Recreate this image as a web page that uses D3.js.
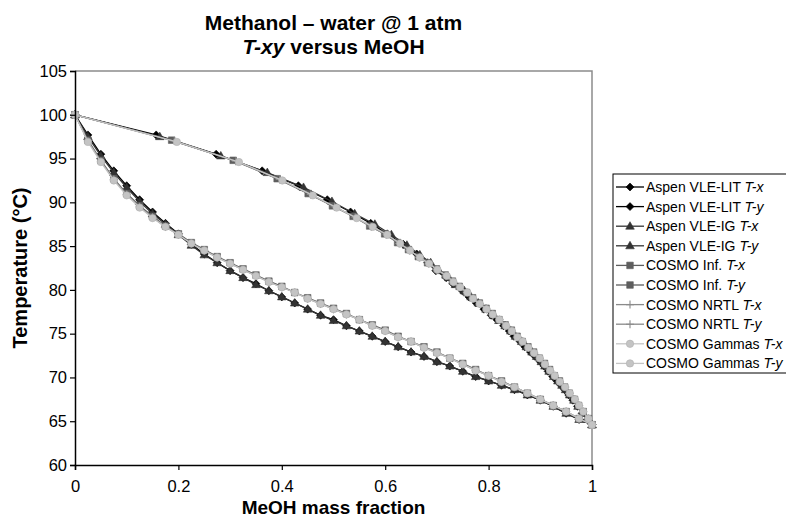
<!DOCTYPE html>
<html>
<head>
<meta charset="utf-8">
<script src="https://cdn.jsdelivr.net/npm/d3@7/dist/d3.min.js"></script>
<style>
  html, body { margin: 0; padding: 0; background: #fff; }
  svg { display: block; font-family: "Liberation Sans", Arial, sans-serif; }
</style>
</head>
<body>
<svg id="chart" width="786" height="519"></svg>
<script>
// Liquid MeOH mass fraction grid shared by every model
const liquidX = [0, 0.025, 0.05, 0.075, 0.1, 0.125, 0.15, 0.175, 0.2, 0.225,
  0.25, 0.275, 0.3, 0.325, 0.35, 0.375, 0.4, 0.425, 0.45, 0.475,
  0.5, 0.525, 0.55, 0.575, 0.6, 0.625, 0.65, 0.675, 0.7, 0.725,
  0.75, 0.775, 0.8, 0.825, 0.85, 0.875, 0.9, 0.925, 0.95, 0.975, 1];

// Aspen VLE-LIT: bubble temperature (°C) and vapour mass fraction
const litT = [100, 97.7, 95.5, 93.6, 91.9, 90.3, 88.9, 87.6, 86.4, 85.2,
  84.1, 83.1, 82.2, 81.4, 80.7, 79.9, 79.2, 78.5, 77.8, 77.1,
  76.6, 75.9, 75.3, 74.7, 74.1, 73.5, 72.9, 72.4, 71.8, 71.3,
  70.7, 70.1, 69.6, 69.1, 68.6, 68.0, 67.4, 66.7, 65.9, 65.2, 64.6];
const litY = [0, 0.157, 0.273, 0.362, 0.432, 0.488, 0.533, 0.572, 0.604, 0.635,
  0.661, 0.682, 0.698, 0.718, 0.731, 0.749, 0.762, 0.776, 0.791, 0.805,
  0.816, 0.829, 0.840, 0.849, 0.861, 0.870, 0.881, 0.890, 0.900, 0.907,
  0.915, 0.924, 0.932, 0.940, 0.947, 0.955, 0.963, 0.972, 0.981, 0.991, 1];

// Aspen VLE-IG
const igT = [100, 97.5, 95.3, 93.4, 91.7, 90.1, 88.7, 87.5, 86.3, 85.1,
  84.0, 83.1, 82.2, 81.4, 80.6, 79.9, 79.2, 78.5, 77.8, 77.1,
  76.5, 75.9, 75.3, 74.7, 74.1, 73.5, 72.9, 72.4, 71.8, 71.3,
  70.7, 70.1, 69.6, 69.1, 68.6, 68.0, 67.4, 66.7, 65.9, 65.2, 64.6];
const igY = [0, 0.164, 0.282, 0.372, 0.442, 0.497, 0.541, 0.580, 0.612, 0.642,
  0.667, 0.688, 0.704, 0.723, 0.736, 0.753, 0.766, 0.780, 0.795, 0.809,
  0.820, 0.832, 0.843, 0.852, 0.864, 0.873, 0.884, 0.893, 0.902, 0.909,
  0.917, 0.926, 0.934, 0.942, 0.949, 0.957, 0.965, 0.973, 0.982, 0.991, 1];

// COSMO Inf.
const infT = [100, 97.1, 94.8, 92.7, 91.0, 89.6, 88.4, 87.3, 86.4, 85.4,
  84.6, 83.8, 83.1, 82.4, 81.7, 81.0, 80.4, 79.7, 79.1, 78.5,
  77.9, 77.3, 76.6, 76.0, 75.4, 74.7, 74.1, 73.5, 72.9, 72.2,
  71.6, 70.9, 70.2, 69.6, 68.9, 68.2, 67.5, 66.8, 66.1, 65.3, 64.6];
const infY = [0, 0.187, 0.306, 0.391, 0.451, 0.498, 0.538, 0.570, 0.599, 0.624,
  0.645, 0.664, 0.682, 0.699, 0.716, 0.730, 0.743, 0.757, 0.769, 0.782,
  0.795, 0.807, 0.820, 0.832, 0.844, 0.855, 0.865, 0.876, 0.887, 0.898,
  0.908, 0.918, 0.927, 0.937, 0.947, 0.956, 0.966, 0.974, 0.983, 0.993, 1];

// COSMO NRTL
const nrtlT = [100, 97.0, 94.7, 92.6, 90.9, 89.5, 88.3, 87.2, 86.3, 85.3,
  84.5, 83.7, 83.0, 82.3, 81.6, 80.9, 80.3, 79.7, 79.0, 78.4,
  77.8, 77.2, 76.6, 75.9, 75.3, 74.6, 74.1, 73.4, 72.8, 72.2,
  71.5, 70.8, 70.2, 69.5, 68.9, 68.2, 67.5, 66.8, 66.1, 65.3, 64.6];
const nrtlY = [0, 0.192, 0.311, 0.396, 0.456, 0.502, 0.542, 0.573, 0.602, 0.627,
  0.647, 0.666, 0.684, 0.700, 0.718, 0.731, 0.744, 0.758, 0.770, 0.783,
  0.796, 0.808, 0.821, 0.833, 0.845, 0.856, 0.866, 0.877, 0.888, 0.899,
  0.909, 0.919, 0.928, 0.938, 0.948, 0.957, 0.967, 0.975, 0.983, 0.993, 1];

// COSMO Gammas
const gamT = [100, 96.9, 94.6, 92.5, 90.8, 89.4, 88.2, 87.2, 86.3, 85.3,
  84.5, 83.7, 83.0, 82.3, 81.6, 80.9, 80.3, 79.7, 79.0, 78.4,
  77.8, 77.2, 76.6, 75.9, 75.3, 74.6, 74.1, 73.4, 72.8, 72.2,
  71.5, 70.8, 70.2, 69.5, 68.9, 68.2, 67.5, 66.8, 66.1, 65.3, 64.6];
const gamY = [0, 0.197, 0.317, 0.401, 0.460, 0.506, 0.545, 0.576, 0.604, 0.629,
  0.648, 0.667, 0.685, 0.701, 0.719, 0.732, 0.745, 0.759, 0.770, 0.783,
  0.796, 0.808, 0.821, 0.834, 0.845, 0.856, 0.866, 0.877, 0.888, 0.899,
  0.909, 0.919, 0.928, 0.938, 0.948, 0.957, 0.967, 0.975, 0.983, 0.993, 1];

const xTicks = [0, 0.2, 0.4, 0.6, 0.8, 1];
const yTicks = [60, 65, 70, 75, 80, 85, 90, 95, 100, 105];

// Models in drawing order: name, colour, marker, temperatures, vapour fractions
const models = [
  { name: "Aspen VLE-LIT", color: "#000000", marker: "diamond", T: litT, Y: litY },
  { name: "Aspen VLE-IG", color: "#333333", marker: "triangle", T: igT, Y: igY },
  { name: "COSMO Inf.", color: "#5e5e5e", marker: "square", T: infT, Y: infY },
  { name: "COSMO NRTL", color: "#8a8a8a", marker: "plus", T: nrtlT, Y: nrtlY },
  { name: "COSMO Gammas", color: "#c4c4c4", marker: "circle", T: gamT, Y: gamY }
];

// Each model gives a T-x (bubble) and a T-y (dew) series
const series = [];
models.forEach(m => {
  series.push({ label: m.name, kind: "T-x", color: m.color, marker: m.marker,
    pts: liquidX.map((v, i) => [v, m.T[i]]) });
  series.push({ label: m.name, kind: "T-y", color: m.color, marker: m.marker,
    pts: m.Y.map((v, i) => [v, m.T[i]]) });
});

const svg = d3.select("#chart");
const plot = { left: 75, right: 592, top: 71, bottom: 465 };

const x = d3.scaleLinear().domain([0, 1]).range([plot.left, plot.right]);
const y = d3.scaleLinear().domain([60, 105]).range([plot.bottom, plot.top]);

// Plot frame: grey top/right edges
svg.append("path")
  .attr("d", `M${plot.left},${plot.top}H${plot.right}V${plot.bottom}`)
  .attr("fill", "none").attr("stroke", "#8c8c8c").attr("stroke-width", 1.5);

const markerPath = (type) => {
  switch (type) {
    case "diamond": return "M0,-4L4,0L0,4L-4,0Z";
    case "triangle": return "M0,-4.5L4.3,3L-4.3,3Z";
    case "square": return "M-3.3,-3.3H3.3V3.3H-3.3Z";
    case "plus": return "M-4,0H4M0,-4V4";
    default: return null;
  }
};

function drawMarker(g, type, color) {
  if (type === "circle") {
    g.append("circle").attr("r", 3.7).attr("fill", color).attr("stroke", "#b0b0b0").attr("stroke-width", 0.6);
  } else if (type === "plus") {
    g.append("path").attr("d", markerPath(type)).attr("fill", "none")
      .attr("stroke", color).attr("stroke-width", 1.1);
  } else {
    g.append("path").attr("d", markerPath(type)).attr("fill", color)
      .attr("stroke", color).attr("stroke-width", 0.6);
  }
}

const line = d3.line().x(d => x(d[0])).y(d => y(d[1]));

const marks = svg.append("g");
series.forEach(s => {
  const g = marks.append("g");
  g.append("path").datum(s.pts).attr("d", line)
    .attr("fill", "none").attr("stroke", s.color).attr("stroke-width", 1.3);
  g.selectAll("g.pt").data(s.pts).enter().append("g")
    .attr("class", "pt")
    .attr("transform", d => `translate(${x(d[0])},${y(d[1])})`)
    .each(function () { drawMarker(d3.select(this), s.marker, s.color); });
});

// Axes
const xAxis = svg.append("g").attr("transform", `translate(0,${plot.bottom})`)
  .call(d3.axisBottom(x).tickValues(xTicks).tickSize(5).tickPadding(10)
    .tickFormat(d => d === 0 || d === 1 ? String(d) : d3.format(".1f")(d)));
const yAxis = svg.append("g").attr("transform", `translate(${plot.left},0)`)
  .call(d3.axisLeft(y).tickValues(yTicks).tickSize(5).tickPadding(3));

[xAxis, yAxis].forEach(a => {
  a.select(".domain").attr("stroke", "#000").attr("stroke-width", 1.5);
  a.selectAll(".tick line").attr("stroke", "#000").attr("stroke-width", 1.2);
  a.selectAll(".tick text").attr("fill", "#000").attr("font-size", 16.5)
    .attr("font-family", "'Liberation Sans', Arial, sans-serif");
});

// Titles
const cx = (plot.left + plot.right) / 2;
svg.append("text").attr("x", cx).attr("y", 30).attr("text-anchor", "middle")
  .attr("font-size", 21).attr("font-weight", "bold").text("Methanol – water @ 1 atm");
const t2 = svg.append("text").attr("x", cx).attr("y", 54).attr("text-anchor", "middle")
  .attr("font-size", 21).attr("font-weight", "bold");
t2.append("tspan").attr("font-style", "italic").text("T-xy");
t2.append("tspan").text(" versus MeOH");

svg.append("text").attr("x", cx).attr("y", 514).attr("text-anchor", "middle")
  .attr("font-size", 19).attr("font-weight", "bold").text("MeOH mass fraction");

svg.append("text")
  .attr("transform", `translate(27,${(plot.top + plot.bottom) / 2}) rotate(-90)`)
  .attr("text-anchor", "middle").attr("font-size", 20).attr("font-weight", "bold")
  .text("Temperature (°C)");

// Legend
const legend = svg.append("g").attr("transform", "translate(613,174)");
legend.append("rect").attr("x", 0).attr("y", 0).attr("width", 185).attr("height", 199)
  .attr("fill", "#fff").attr("stroke", "#000").attr("stroke-width", 1);

series.forEach((s, i) => {
  const row = legend.append("g").attr("transform", `translate(0,${13 + i * 19.6})`);
  row.append("line").attr("x1", 3).attr("x2", 31).attr("y1", 0).attr("y2", 0)
    .attr("stroke", s.color).attr("stroke-width", 1.3);
  const m = row.append("g").attr("transform", "translate(17,0)");
  drawMarker(m, s.marker, s.color);
  const t = row.append("text").attr("x", 33).attr("y", 5).attr("font-size", 14);
  t.append("tspan").text(s.label + " ");
  t.append("tspan").attr("font-style", "italic").text(s.kind);
});
</script>
</body>
</html>
